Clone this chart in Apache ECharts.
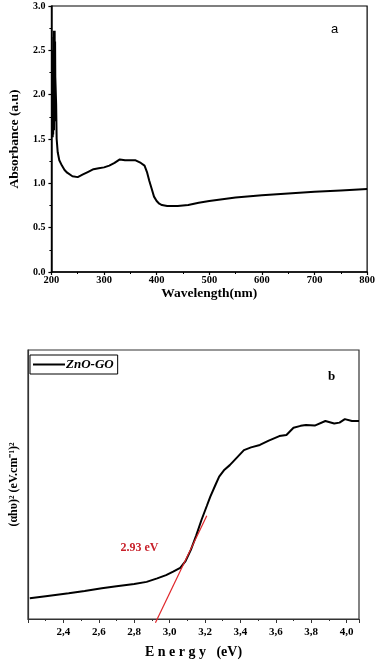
<!DOCTYPE html>
<html>
<head>
<meta charset="utf-8">
<script src="https://cdn.jsdelivr.net/npm/echarts@6/dist/echarts.min.js"></script>
<style>html,body{margin:0;padding:0;background:#fff}#c{width:378px;height:664px}</style>
</head>
<body>
<div id="c"></div>
<script>
// Panel a: UV-Vis absorbance
const wavelengthNm = [202.5,203,203.4,203.8,204.2,204.6,205,205.4,205.8,206.2,206.6,207,207.4,208,209,210,212,215,220,225,230,240,250,260,270,280,290,300,310,320,330,340,350,360,370,377,382,386,390,395,400,405,410,420,440,460,480,500,550,600,650,700,750,800];
const absorbance   = [1.52,2.5,1.55,2.65,1.6,2.72,1.6,2.7,1.7,2.72,1.8,2.6,2.2,2.2,1.9,1.5,1.35,1.26,1.2,1.15,1.12,1.08,1.07,1.1,1.13,1.16,1.17,1.18,1.2,1.23,1.27,1.26,1.26,1.26,1.23,1.2,1.12,1.03,0.95,0.85,0.8,0.77,0.755,0.745,0.745,0.755,0.78,0.8,0.84,0.865,0.885,0.905,0.92,0.935];
// Panel b: Tauc plot (arbitrary units)
const energyEv = [2.21,2.3,2.43,2.52,2.617,2.7,2.8,2.87,2.93,2.98,3.02,3.06,3.09,3.12,3.15,3.18,3.21,3.23,3.26,3.28,3.31,3.34,3.38,3.42,3.46,3.51,3.56,3.62,3.66,3.7,3.74,3.77,3.82,3.88,3.93,3.96,3.99,4.03,4.07];
const tauc     = [7.7,8.5,9.55,10.4,11.4,12.2,13.0,13.8,15.1,16.3,17.6,19.0,21.5,25.7,31.0,36.8,42.0,45.5,50.0,52.9,55.5,57.2,60.0,62.8,63.8,64.7,66.3,68.0,68.4,71.1,71.8,72.1,71.9,73.6,72.7,73.0,74.3,73.6,73.6];
const fitEnergy = [2.92,3.21];
const fitValue  = [-1.4,38.4];
const bandGapLabel = '2.93 eV';
const topXTicks = [200,300,400,500,600,700,800];
const topYTicks = [0,0.5,1,1.5,2,2.5,3];

const serif = 'Liberation Serif';
const chart = echarts.init(document.getElementById('c'));
const zip = (a,b) => a.map((v,i)=>[v,b[i]]);

chart.setOption({
  animation:false,
  backgroundColor:'#fff',
  grid:[
    {left:40, top:6, width:328, height:266, show:true, borderColor:'#000', borderWidth:1.2, backgroundColor:'transparent'},
    {left:27, top:350, width:332, height:269, show:true, borderColor:'#333', borderWidth:1.2, backgroundColor:'transparent'}
  ],
  xAxis:[
    {gridIndex:0, type:'value', min:topXTicks[0], max:topXTicks[topXTicks.length-1], interval:100,
     axisLine:{lineStyle:{color:'#000', width:1.5}},
     axisTick:{length:3, lineStyle:{color:'#000', width:1.2}},
     minorTick:{show:true, splitNumber:2, length:2, lineStyle:{color:'#000'}},
     splitLine:{show:false},
     axisLabel:{margin:3, color:'#000', fontFamily:serif, fontWeight:'bold', fontSize:10.5},
     name:'Wavelength(nm)', nameLocation:'middle', nameGap:13,
     nameTextStyle:{color:'#000', fontFamily:serif, fontWeight:'bold', fontSize:13.5}},
    {gridIndex:1, type:'value', min:2.2, max:4.07, interval:0.2,
     axisLine:{lineStyle:{color:'#333', width:1.2}},
     axisTick:{length:4, lineStyle:{color:'#333', width:1}},
     minorTick:{show:true, splitNumber:2, length:2, lineStyle:{color:'#333'}},
     splitLine:{show:false},
     axisLabel:{margin:8, color:'#000', fontFamily:serif, fontWeight:'bold', fontSize:11,
       formatter:v => v < 2.3 ? '' : v.toFixed(1).replace('.', ',')},
     name:'E n e r g y   (eV)', nameLocation:'middle', nameGap:26,
     nameTextStyle:{color:'#000', fontFamily:serif, fontWeight:'bold', fontSize:14}}
  ],
  yAxis:[
    {gridIndex:0, type:'value', min:topYTicks[0], max:topYTicks[topYTicks.length-1], interval:0.5,
     axisLine:{show:true, lineStyle:{color:'#000', width:1.5}},
     axisTick:{show:true, length:3, lineStyle:{color:'#000', width:1.2}},
     minorTick:{show:true, splitNumber:2, length:2, lineStyle:{color:'#000'}},
     splitLine:{show:false},
     axisLabel:{margin:6, color:'#000', fontFamily:serif, fontWeight:'bold', fontSize:10, formatter:v=>v.toFixed(1)},
     name:'Absorbance (a.u)', nameLocation:'middle', nameGap:22,
     nameTextStyle:{color:'#000', fontFamily:serif, fontWeight:'bold', fontSize:13.5}},
    {gridIndex:1, type:'value', min:0, max:100,
     axisLine:{show:true, lineStyle:{color:'#333', width:1.2}},
     axisTick:{show:false}, axisLabel:{show:false}, splitLine:{show:false},
     name:'(αhυ)² (eV.cm⁻¹)²', nameLocation:'middle', nameGap:8,
     nameTextStyle:{color:'#000', fontFamily:serif, fontWeight:'bold', fontSize:12}}
  ],
  legend:{
    left:30, top:355, orient:'vertical', data:[{name:'ZnO-GO', icon:'rect'}],
    itemWidth:32, itemHeight:2, itemGap:0,
    borderColor:'#000', borderWidth:1, padding:[3,4,3,3], borderRadius:0,
    textStyle:{color:'#000', fontFamily:serif, fontWeight:'bold', fontStyle:'italic', fontSize:13, padding:[0,0,0,-4]}
  },
  series:[
    {type:'line', xAxisIndex:0, yAxisIndex:0, data:zip(wavelengthNm, absorbance),
     showSymbol:false, lineStyle:{color:'#000', width:2}, itemStyle:{color:'#000'}},
    {name:'ZnO-GO', type:'line', xAxisIndex:1, yAxisIndex:1, data:zip(energyEv, tauc),
     showSymbol:false, lineStyle:{color:'#000', width:2}, itemStyle:{color:'#000'}},
    {type:'line', xAxisIndex:1, yAxisIndex:1, data:zip(fitEnergy, fitValue), clip:false,
     showSymbol:false, lineStyle:{color:'#e0262a', width:1.2}, itemStyle:{color:'#e0262a'},
     markPoint:{symbol:'circle', symbolSize:0, data:[{coord:[2.83, 26.4], value:bandGapLabel}],
       label:{show:true, position:'inside', formatter:bandGapLabel, color:'#c8202a', fontFamily:serif, fontWeight:'bold', fontSize:12}}}
  ],
  graphic:[
    {type:'text', left:331, top:23, style:{text:'a', fill:'#000', font:'13px "Liberation Sans"'}},
    {type:'text', left:328, top:370, style:{text:'b', fill:'#000', font:'bold 13px "Liberation Serif"'}}
  ]
});
</script>
</body>
</html>
